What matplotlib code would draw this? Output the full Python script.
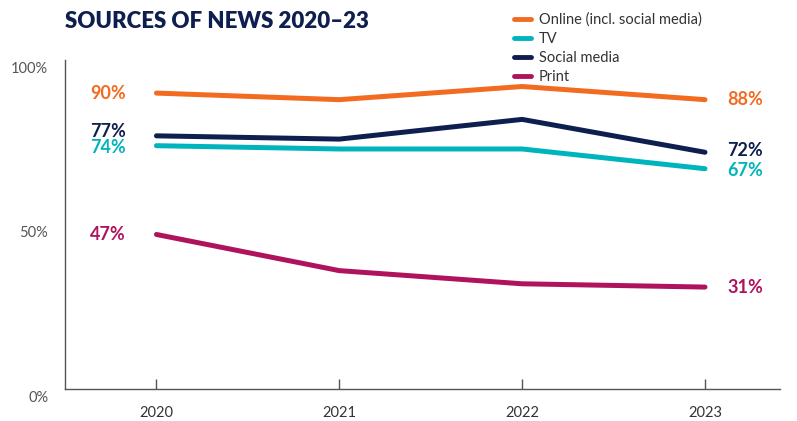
import matplotlib
matplotlib.use("Agg")
import matplotlib.pyplot as plt
import matplotlib.transforms as mtransforms

years = [2020, 2021, 2022, 2023]
online = [90, 88, 92, 88]
tv = [74, 73, 73, 67]
social = [77, 76, 82, 72]
printed = [47, 36, 32, 31]

series_names = ["Online (incl. social media)", "TV", "Social media", "Print"]
series_values = [online, tv, social, printed]
colors = ["#F26B21", "#00B4BE", "#0E1E4E", "#B0135E"]

# label nudges (points) so that close pairs don't overlap
left_nudge = [0, -1, 3, 0]
right_nudge = [0, -1.5, 1, 0]

plt.rcParams["font.family"] = ["Lato", "DejaVu Sans"]

fig = plt.figure(figsize=(7.97, 4.21), dpi=100)
ax = fig.add_axes([0.0816, 0.076, 0.897, 0.781])

for name, vals, c, ln, rn in zip(series_names, series_values, colors, left_nudge, right_nudge):
    ax.plot(years, vals, color=c, lw=3.6, solid_capstyle="round",
            solid_joinstyle="miter", label=name)
    ax.annotate(f"{vals[0]}%", xy=(years[0], vals[0]), xytext=(-22, ln),
                textcoords="offset points", ha="right", va="center",
                fontsize=13, fontweight="bold", color=c)
    ax.annotate(f"{vals[-1]}%", xy=(years[-1], vals[-1]), xytext=(16, rn),
                textcoords="offset points", ha="left", va="center",
                fontsize=13, fontweight="bold", color=c)

ax.set_xlim(2019.5, 2023.41)
ax.set_ylim(0, 100)
ax.set_xticks(years)
ax.set_xticklabels([str(y) for y in years])
ax.set_yticks([0, 50, 100])
ax.set_yticklabels(["0%", "50%", "100%"])

for s in ["top", "right"]:
    ax.spines[s].set_visible(False)
for s in ["left", "bottom"]:
    ax.spines[s].set_color("#555555")
    ax.spines[s].set_linewidth(1.0)

ax.tick_params(axis="x", direction="in", length=7, width=1, color="#555555",
               labelsize=10.5, labelcolor="#333333", pad=12)
ax.tick_params(axis="y", length=0, labelsize=10.5, labelcolor="#555555", pad=12)

# y tick labels sit slightly below their values in the reference
offset = mtransforms.ScaledTranslation(0, -7 / 100, fig.dpi_scale_trans)
for lab in ax.get_yticklabels():
    lab.set_transform(lab.get_transform() + offset)

fig.text(0.082, 0.948, "SOURCES OF NEWS 2020\u201323", fontsize=16,
         fontweight="heavy", color="#0E1E4E", ha="left", va="center")

leg = fig.legend(loc="upper left", bbox_to_anchor=(0.633, 0.992), frameon=False,
                 fontsize=10.5, handlelength=1.2, handletextpad=0.5,
                 labelspacing=0.33, borderaxespad=0.25)
for t in leg.get_texts():
    t.set_color("#333333")
for h in leg.legend_handles:
    h.set_linewidth(3.5)

fig.savefig("out.png", dpi=100)
